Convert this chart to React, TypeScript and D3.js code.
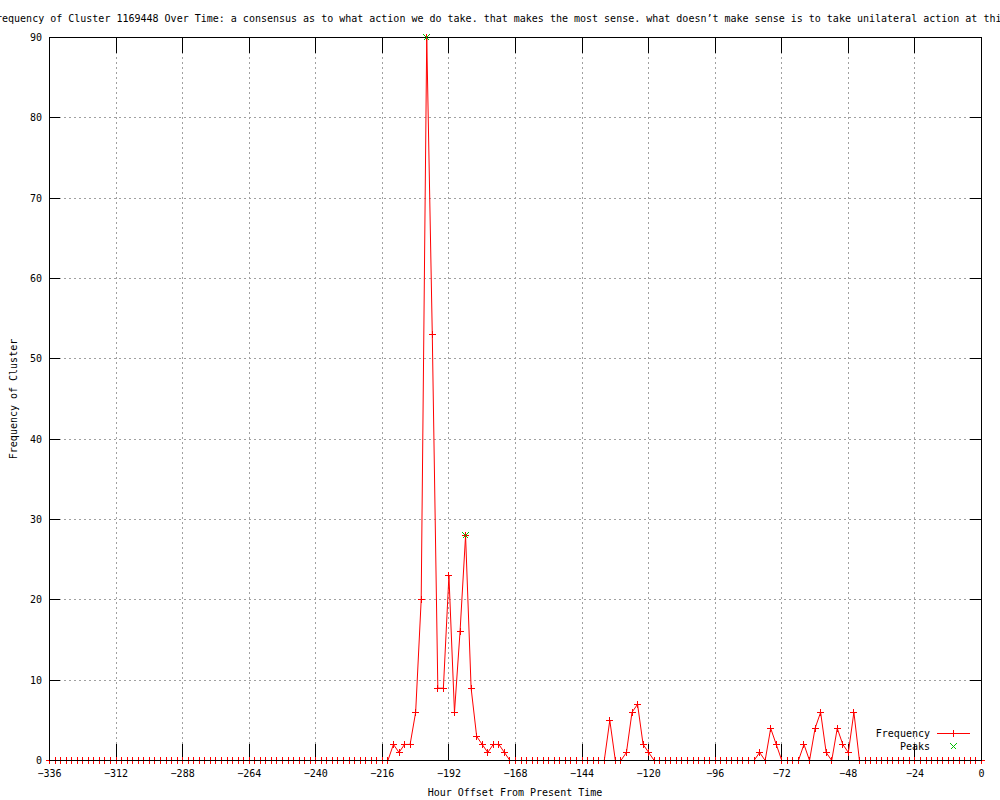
import React, { useEffect, useRef } from 'react';
import * as d3 from 'd3';

// frequency per 2-hour bin, from -336h to 0h
const FREQ_VALUES = [
  0, 0, 0, 0, 0, 0, 0, 0, 0, 0, 0, 0, // -336
  0, 0, 0, 0, 0, 0, 0, 0, 0, 0, 0, 0, // -312
  0, 0, 0, 0, 0, 0, 0, 0, 0, 0, 0, 0, // -288
  0, 0, 0, 0, 0, 0, 0, 0, 0, 0, 0, 0, // -264
  0, 0, 0, 0, 0, 0, 0, 0, 0, 0, 0, 0, // -240
  0, 0, 2, 1, 2, 2, 6, 20, 90, 53, 9, 9, // -216
  23, 6, 16, 28, 9, 3, 2, 1, 2, 2, 1, 0, // -192
  0, 0, 0, 0, 0, 0, 0, 0, 0, 0, 0, 0, // -168
  0, 0, 0, 0, 0, 5, 0, 0, 1, 6, 7, 2, // -144
  1, 0, 0, 0, 0, 0, 0, 0, 0, 0, 0, 0, // -120
  0, 0, 0, 0, 0, 0, 0, 0, 1, 0, 4, 2, // -96
  0, 0, 0, 0, 2, 0, 4, 6, 1, 0, 4, 2, // -72
  1, 6, 0, 0, 0, 0, 0, 0, 0, 0, 0, 0, // -48
  0, 0, 0, 0, 0, 0, 0, 0, 0, 0, 0, 0, // -24
  0 // 0
];
const START_HOUR = -336;
const STEP_HOURS = 2;

const PEAK_HOURS = [-200, -186];
const PEAK_VALUES = [90, 28];

const X_TICKS = [-336, -312, -288, -264, -240, -216, -192, -168, -144, -120, -96, -72, -48, -24, 0];
const Y_TICKS = [0, 10, 20, 30, 40, 50, 60, 70, 80, 90];

const TITLE = 'Frequency of Cluster 1169448 Over Time: a consensus as to what action we do take. that makes the most sense. what doesn\u2019t make sense is to take unilateral action at this time.';
const X_LABEL = 'Hour Offset From Present Time';
const Y_LABEL = 'Frequency of Cluster';
const LEGEND = ['Frequency', 'Peaks'];

const FONT = '"DejaVu Sans Mono", monospace';

export default function App() {
  const ref = useRef<SVGSVGElement>(null);

  useEffect(() => {
    const svg = d3.select(ref.current);
    svg.selectAll('*').remove();

    const left = 49, right = 981, top = 37, bottom = 760;
    const x = d3.scaleLinear().domain([-336, 0]).range([left, right]);
    const y = d3.scaleLinear().domain([0, 90]).range([bottom, top]);
    const px = (v: number) => Math.round(x(v)) + 0.5;
    const py = (v: number) => Math.round(y(v)) + 0.5;

    const data = FREQ_VALUES.map((v, i) => ({ h: START_HOUR + i * STEP_HOURS, v }));

    svg.append('rect').attr('width', 1000).attr('height', 800).attr('fill', '#fff');

    // grid
    const grid = svg.append('g').attr('stroke', '#a0a0a0').attr('stroke-dasharray', '2,3')
      .attr('shape-rendering', 'crispEdges');
    X_TICKS.filter(t => t !== -336 && t !== 0).forEach(t => {
      grid.append('line').attr('x1', px(t)).attr('x2', px(t)).attr('y1', top).attr('y2', bottom);
    });
    Y_TICKS.filter(t => t !== 0 && t !== 90).forEach(t => {
      grid.append('line').attr('x1', left).attr('x2', right).attr('y1', py(t)).attr('y2', py(t));
    });

    // ticks + labels
    const axes = svg.append('g').attr('stroke', '#000').attr('shape-rendering', 'crispEdges');
    X_TICKS.forEach(t => {
      axes.append('line').attr('x1', px(t)).attr('x2', px(t)).attr('y1', bottom).attr('y2', bottom - 16);
      axes.append('line').attr('x1', px(t)).attr('x2', px(t)).attr('y1', top).attr('y2', top + 16);
    });
    Y_TICKS.forEach(t => {
      axes.append('line').attr('x1', left).attr('x2', left + 11).attr('y1', py(t)).attr('y2', py(t));
      axes.append('line').attr('x1', right).attr('x2', right - 11).attr('y1', py(t)).attr('y2', py(t));
    });

    const txt = svg.append('g').attr('font-family', FONT).attr('font-size', 10).attr('fill', '#000');
    X_TICKS.forEach(t => {
      txt.append('text').attr('x', x(t) + 0.5).attr('y', 777).attr('text-anchor', 'middle')
        .text(d3.format('d')(t));
    });
    Y_TICKS.forEach(t => {
      txt.append('text').attr('x', 42).attr('y', y(t) + 4).attr('text-anchor', 'end').text(t);
    });
    // title is wider than the canvas, centred over the plot like the original
    txt.append('text').attr('x', -10).attr('y', 22).attr('text-anchor', 'start').text(TITLE);
    txt.append('text').attr('x', 515).attr('y', 796).attr('text-anchor', 'middle').text(X_LABEL);
    txt.append('text').attr('transform', 'translate(17,399) rotate(-90)').attr('text-anchor', 'middle').text(Y_LABEL);

    // frequency line
    svg.append('path').datum(data)
      .attr('fill', 'none').attr('stroke', '#ff0000').attr('stroke-width', 1)
      .attr('d', d3.line<{ h: number; v: number }>().x(d => x(d.h) + 0.5).y(d => y(d.v) + 0.5));

    const plus = (cx: number, cy: number) => `M${cx - 3.5},${cy}h7M${cx},${cy - 3.5}v7`;
    const cross = (cx: number, cy: number) => `M${cx - 3},${cy - 3}l6,6M${cx - 3},${cy + 3}l6,-6`;

    svg.append('g').attr('stroke', '#ff0000').attr('fill', 'none').attr('shape-rendering', 'crispEdges')
      .selectAll('path').data(data).join('path')
      .attr('d', d => plus(px(d.h), py(d.v)));

    // border on top
    svg.append('rect').attr('x', left + 0.5).attr('y', top + 0.5)
      .attr('width', right - left).attr('height', bottom - top)
      .attr('fill', 'none').attr('stroke', '#000').attr('shape-rendering', 'crispEdges');

    // peaks
    svg.append('g').attr('stroke', '#00c000').attr('fill', 'none').attr('shape-rendering', 'crispEdges')
      .selectAll('path').data(PEAK_HOURS).join('path')
      .attr('d', (h, i) => cross(px(h), py(PEAK_VALUES[i])));

    // legend
    const lg = svg.append('g').attr('font-family', FONT).attr('font-size', 10);
    lg.append('text').attr('x', 930).attr('y', 737).attr('text-anchor', 'end').text(LEGEND[0]);
    lg.append('text').attr('x', 930).attr('y', 750).attr('text-anchor', 'end').text(LEGEND[1]);
    lg.append('line').attr('x1', 937).attr('x2', 970).attr('y1', 733.5).attr('y2', 733.5)
      .attr('stroke', '#ff0000').attr('shape-rendering', 'crispEdges');
    lg.append('path').attr('d', plus(953.5, 733.5)).attr('stroke', '#ff0000').attr('shape-rendering', 'crispEdges');
    lg.append('path').attr('d', cross(953.5, 746.5)).attr('stroke', '#00c000').attr('shape-rendering', 'crispEdges');
  }, []);

  return (
    <svg ref={ref} width={1000} height={800}
      style={{ position: 'absolute', left: 0, top: 0, display: 'block' }} />
  );
}
